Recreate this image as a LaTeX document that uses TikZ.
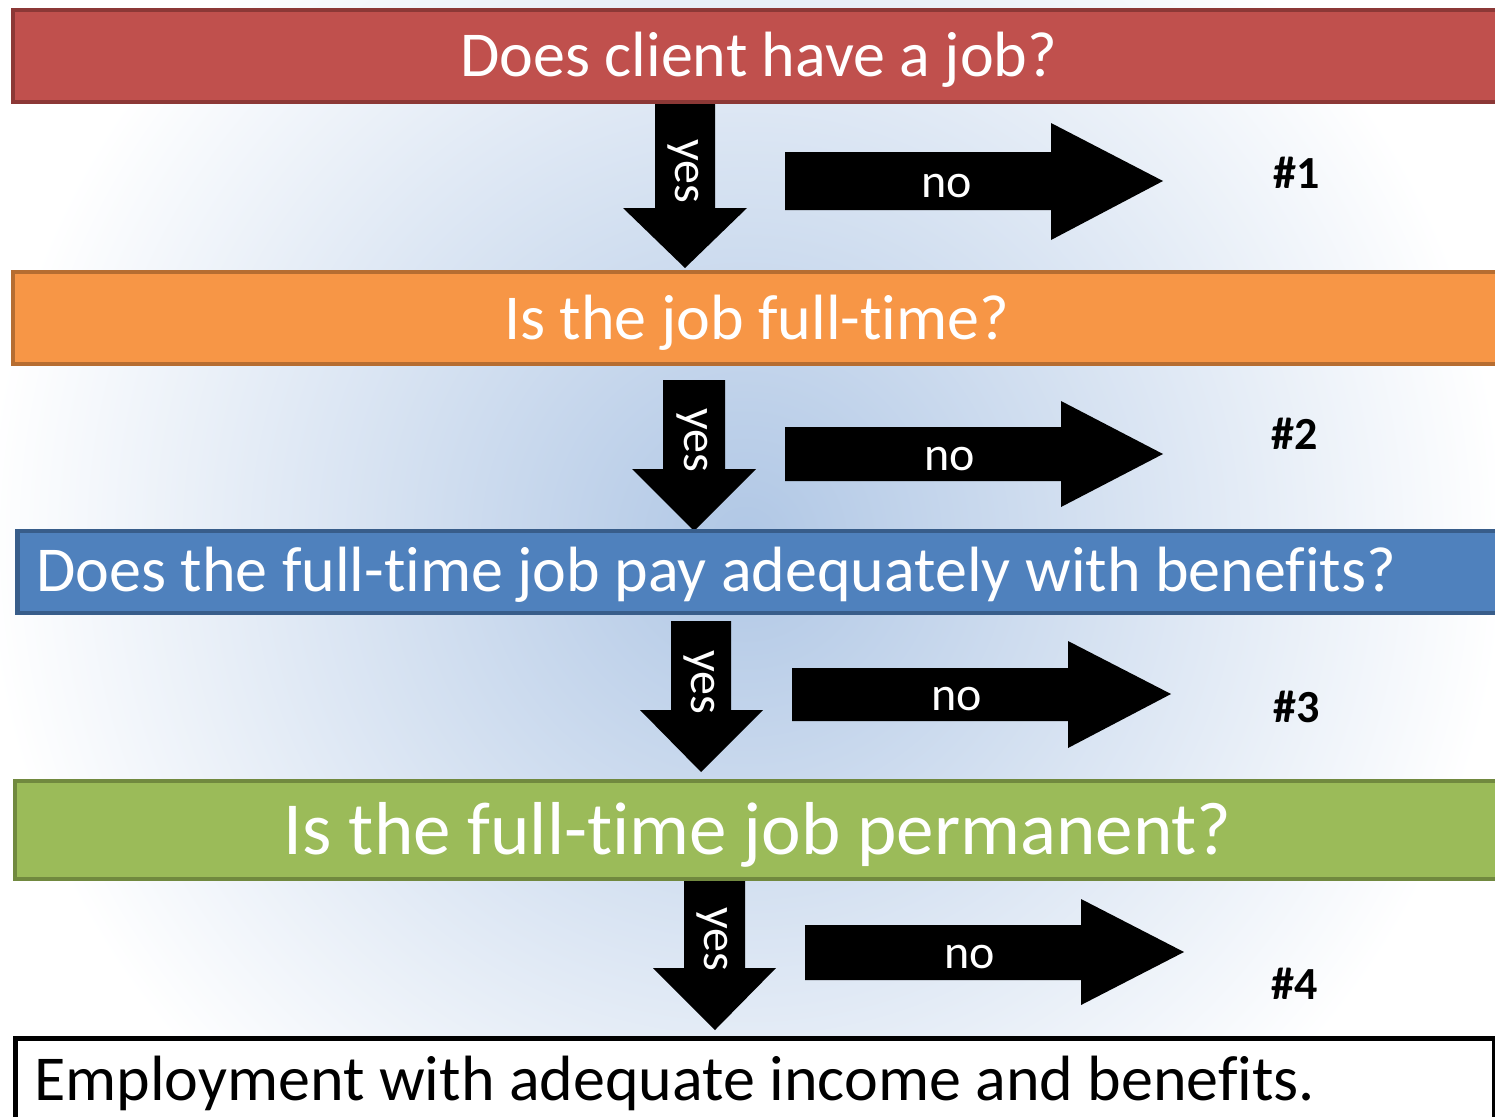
\documentclass[tikz,border=0pt]{standalone}
\usepackage{fontspec}
\setmainfont{Carlito}[Ligatures={NoCommon}]
\usepackage{tikz}

\definecolor{bgmid}{RGB}{176,199,229}
\definecolor{qred}{HTML}{C0504D}
\definecolor{qredline}{HTML}{8C3836}
\definecolor{qorange}{HTML}{F79646}
\definecolor{qorangeline}{HTML}{B66D31}
\definecolor{qblue}{HTML}{4F81BD}
\definecolor{qblueline}{HTML}{385D8A}
\definecolor{qgreen}{HTML}{9BBB59}
\definecolor{qgreenline}{HTML}{71893F}

\begin{document}
\begin{tikzpicture}[x=1pt,y=-1pt,
	bar/.style={anchor=north west, line width=4.5pt, inner xsep=0pt, inner ysep=0pt, text depth=0pt, text=white, font=\fontsize{64}{64}\selectfont},
	leftbar/.style={bar, inner xsep=19pt, align=flush left},
	blockarrow/.style={fill=black},
	yeslbl/.style={rotate=-90, text=white, inner sep=0pt, font=\fontsize{48}{48}\selectfont},
	nolbl/.style={anchor=base, text=white, inner sep=0pt, font=\fontsize{48}{48}\selectfont},
	numlbl/.style={anchor=base, inner sep=0pt, font=\fontsize{46}{46}\selectfont\bfseries}]
		\useasboundingbox (0,0) rectangle (1495,1116);
		\clip (0,0) rectangle (1495,1116);
		\fill[white] (0,0) rectangle (1495,1116);
		\shade[inner color=bgmid, outer color=white] (745,540) circle (760);
		
		\fill[blockarrow] (655,101) -- (715,101) -- (715,208) -- (747,208) -- (685,268) -- (623,208) -- (655,208) -- cycle;
		\fill[blockarrow] (663,380) -- (725,380) -- (725,469) -- (756,469) -- (694,531) -- (632,469) -- (663,469) -- cycle;
		\fill[blockarrow] (671,621) -- (731,621) -- (731,710) -- (763,710) -- (701,772) -- (640,710) -- (671,710) -- cycle;
		\fill[blockarrow] (684,879) -- (745,879) -- (745,968) -- (776,968) -- (715,1030) -- (653,968) -- (684,968) -- cycle;
		
		\fill[blockarrow] (785,152) -- (1051,152) -- (1051,123) -- (1163,181) -- (1051,240) -- (1051,210) -- (785,210) -- cycle;
		\fill[blockarrow] (785,427) -- (1061,427) -- (1061,401) -- (1163,454) -- (1061,507) -- (1061,481) -- (785,481) -- cycle;
		\fill[blockarrow] (792,668) -- (1068,668) -- (1068,641) -- (1171,694) -- (1068,748) -- (1068,721) -- (792,721) -- cycle;
		\fill[blockarrow] (805,925) -- (1081,925) -- (1081,899) -- (1184,952) -- (1081,1005) -- (1081,980) -- (805,980) -- cycle;
		
		\node[bar, fill=qred, draw=qredline, minimum width=1492pt, minimum height=91.5pt, text height=41.5pt] (q1) at (10.5,8) {Does client have a job?};
		\node[bar, fill=qorange, draw=qorangeline, minimum width=1488pt, minimum height=92pt, text height=44pt] (q2) at (10.5,269.5) {Is the job full-time?};
		\node[leftbar, fill=qblue, draw=qblueline, text width=1470pt, minimum height=82pt, text height=40pt] (q3) at (15,528.5) {Does the full-time job pay adequately with benefits?};
		\node[bar, fill=qgreen, draw=qgreenline, minimum width=1486pt, minimum height=98pt, text height=50pt, font=\fontsize{75}{75}\selectfont] (q4) at (12.5,778.5) {Is the full-time job permanent?};
		\node[leftbar, fill=white, draw=black, text=black, text width=1441pt, minimum height=110pt, text height=15pt] (goal) at (13,1036) {Employment with adequate income and benefits.};
		
		\node[yeslbl] (yes1) at (683,171) {yes};
		\node[yeslbl] (yes2) at (692,440) {yes};
		\node[yeslbl] (yes3) at (699,682) {yes};
		\node[yeslbl] (yes4) at (712,939) {yes};
		
		\node[nolbl] (no1) at (946.5,197) {no};
		\node[nolbl] (no2) at (949.5,470) {no};
		\node[nolbl] (no3) at (956.5,710.5) {no};
		\node[nolbl] (no4) at (970,968.5) {no};
		
		\node[numlbl] (n1) at (1296.5,188) {\#1};
		\node[numlbl] (n2) at (1295,449) {\#2};
		\node[numlbl] (n3) at (1297,722) {\#3};
		\node[numlbl] (n4) at (1295,999) {\#4};
\end{tikzpicture}
\end{document}
